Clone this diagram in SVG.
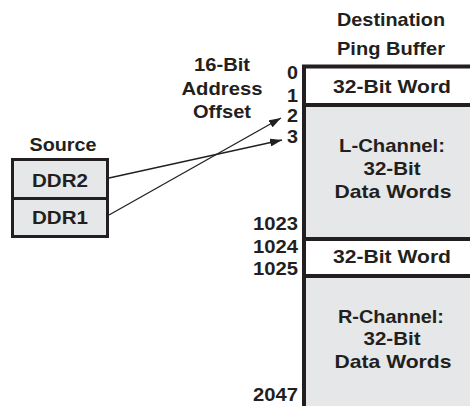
<svg xmlns="http://www.w3.org/2000/svg" width="470" height="406" viewBox="0 0 470 406">
<style>
text{font-family:"Liberation Sans",Arial,sans-serif;font-weight:bold;font-size:18.5px;fill:#231f20}
.c{text-anchor:middle}
.r{text-anchor:end}
.fill{fill:#e6e7e8;stroke:none}
.wh{fill:#ffffff;stroke:none}
.bd{stroke:#231f20;stroke-width:4;fill:none}
.ln{stroke:#231f20;stroke-width:1.3;fill:none}
</style>
<defs>
<marker id="ah" viewBox="0 0 12 8" refX="12" refY="4" markerWidth="12" markerHeight="8" markerUnits="userSpaceOnUse" orient="auto">
<path d="M0,0 L12,4 L0,8 Z" fill="#231f20"/>
</marker>
</defs>
<g id="labels">
<text class="c" x="391" y="26" textLength="108" lengthAdjust="spacingAndGlyphs">Destination</text>
<text class="c" x="391" y="55" textLength="108" lengthAdjust="spacingAndGlyphs">Ping Buffer</text>
<text class="c" x="222" y="71" textLength="56" lengthAdjust="spacingAndGlyphs">16-Bit</text>
<text class="c" x="222" y="95" textLength="81" lengthAdjust="spacingAndGlyphs">Address</text>
<text class="c" x="222" y="118" textLength="58" lengthAdjust="spacingAndGlyphs">Offset</text>
<text class="c" x="63" y="151" textLength="67" lengthAdjust="spacingAndGlyphs">Source</text>
</g>
<g id="offsets">
<text class="r" x="298" y="79" textLength="11" lengthAdjust="spacingAndGlyphs">0</text>
<text class="r" x="298" y="102" textLength="11" lengthAdjust="spacingAndGlyphs">1</text>
<text class="r" x="298" y="122" textLength="11" lengthAdjust="spacingAndGlyphs">2</text>
<text class="r" x="298" y="143" textLength="11" lengthAdjust="spacingAndGlyphs">3</text>
<text class="r" x="298" y="230" textLength="45" lengthAdjust="spacingAndGlyphs">1023</text>
<text class="r" x="298" y="253" textLength="45" lengthAdjust="spacingAndGlyphs">1024</text>
<text class="r" x="298" y="275" textLength="45" lengthAdjust="spacingAndGlyphs">1025</text>
<text class="r" x="298" y="401" textLength="45" lengthAdjust="spacingAndGlyphs">2047</text>
</g>
<g id="source">
<g id="ddr2">
<rect class="fill" x="12.5" y="159.5" width="95" height="39"/>
<text class="c" x="60" y="187" textLength="56" lengthAdjust="spacingAndGlyphs">DDR2</text>
</g>
<g id="ddr1">
<rect class="fill" x="12.5" y="198.5" width="95" height="38"/>
<text class="c" x="60" y="224" textLength="56" lengthAdjust="spacingAndGlyphs">DDR1</text>
</g>
<rect x="12.5" y="159.5" width="95" height="77" stroke="#231f20" stroke-width="3" fill="none"/>
<line x1="12.5" y1="198.5" x2="107.5" y2="198.5" stroke="#231f20" stroke-width="3"/>
</g>
<g id="buffer">
<g id="word0">
<rect class="wh" x="306" y="68.5" width="164" height="34.5"/>
<text class="c" x="392" y="93" textLength="118" lengthAdjust="spacingAndGlyphs">32-Bit Word</text>
</g>
<g id="lchannel">
<rect class="fill" x="306" y="107" width="164" height="130"/>
<text class="c" x="392" y="152" textLength="106" lengthAdjust="spacingAndGlyphs">L-Channel:</text>
<text class="c" x="392" y="175" textLength="57" lengthAdjust="spacingAndGlyphs">32-Bit</text>
<text class="c" x="393" y="198" textLength="117" lengthAdjust="spacingAndGlyphs">Data Words</text>
</g>
<g id="word1024">
<rect class="wh" x="306" y="241" width="164" height="33"/>
<text class="c" x="392" y="263" textLength="118" lengthAdjust="spacingAndGlyphs">32-Bit Word</text>
</g>
<g id="rchannel">
<rect class="fill" x="306" y="278" width="164" height="128"/>
<text class="c" x="391" y="323" textLength="106" lengthAdjust="spacingAndGlyphs">R-Channel:</text>
<text class="c" x="392" y="345" textLength="57" lengthAdjust="spacingAndGlyphs">32-Bit</text>
<text class="c" x="393" y="368" textLength="117" lengthAdjust="spacingAndGlyphs">Data Words</text>
</g>
<path class="bd" d="M304,406 V66.5 H470"/>
<line class="bd" x1="306" y1="105" x2="470" y2="105"/>
<line class="bd" x1="306" y1="239" x2="470" y2="239"/>
<line class="bd" x1="306" y1="276" x2="470" y2="276"/>
</g>
<g id="connectors">
<line class="ln" x1="109" y1="178" x2="282" y2="140" marker-end="url(#ah)"/>
<line class="ln" x1="109" y1="215" x2="281" y2="118" marker-end="url(#ah)"/>
</g>
</svg>
